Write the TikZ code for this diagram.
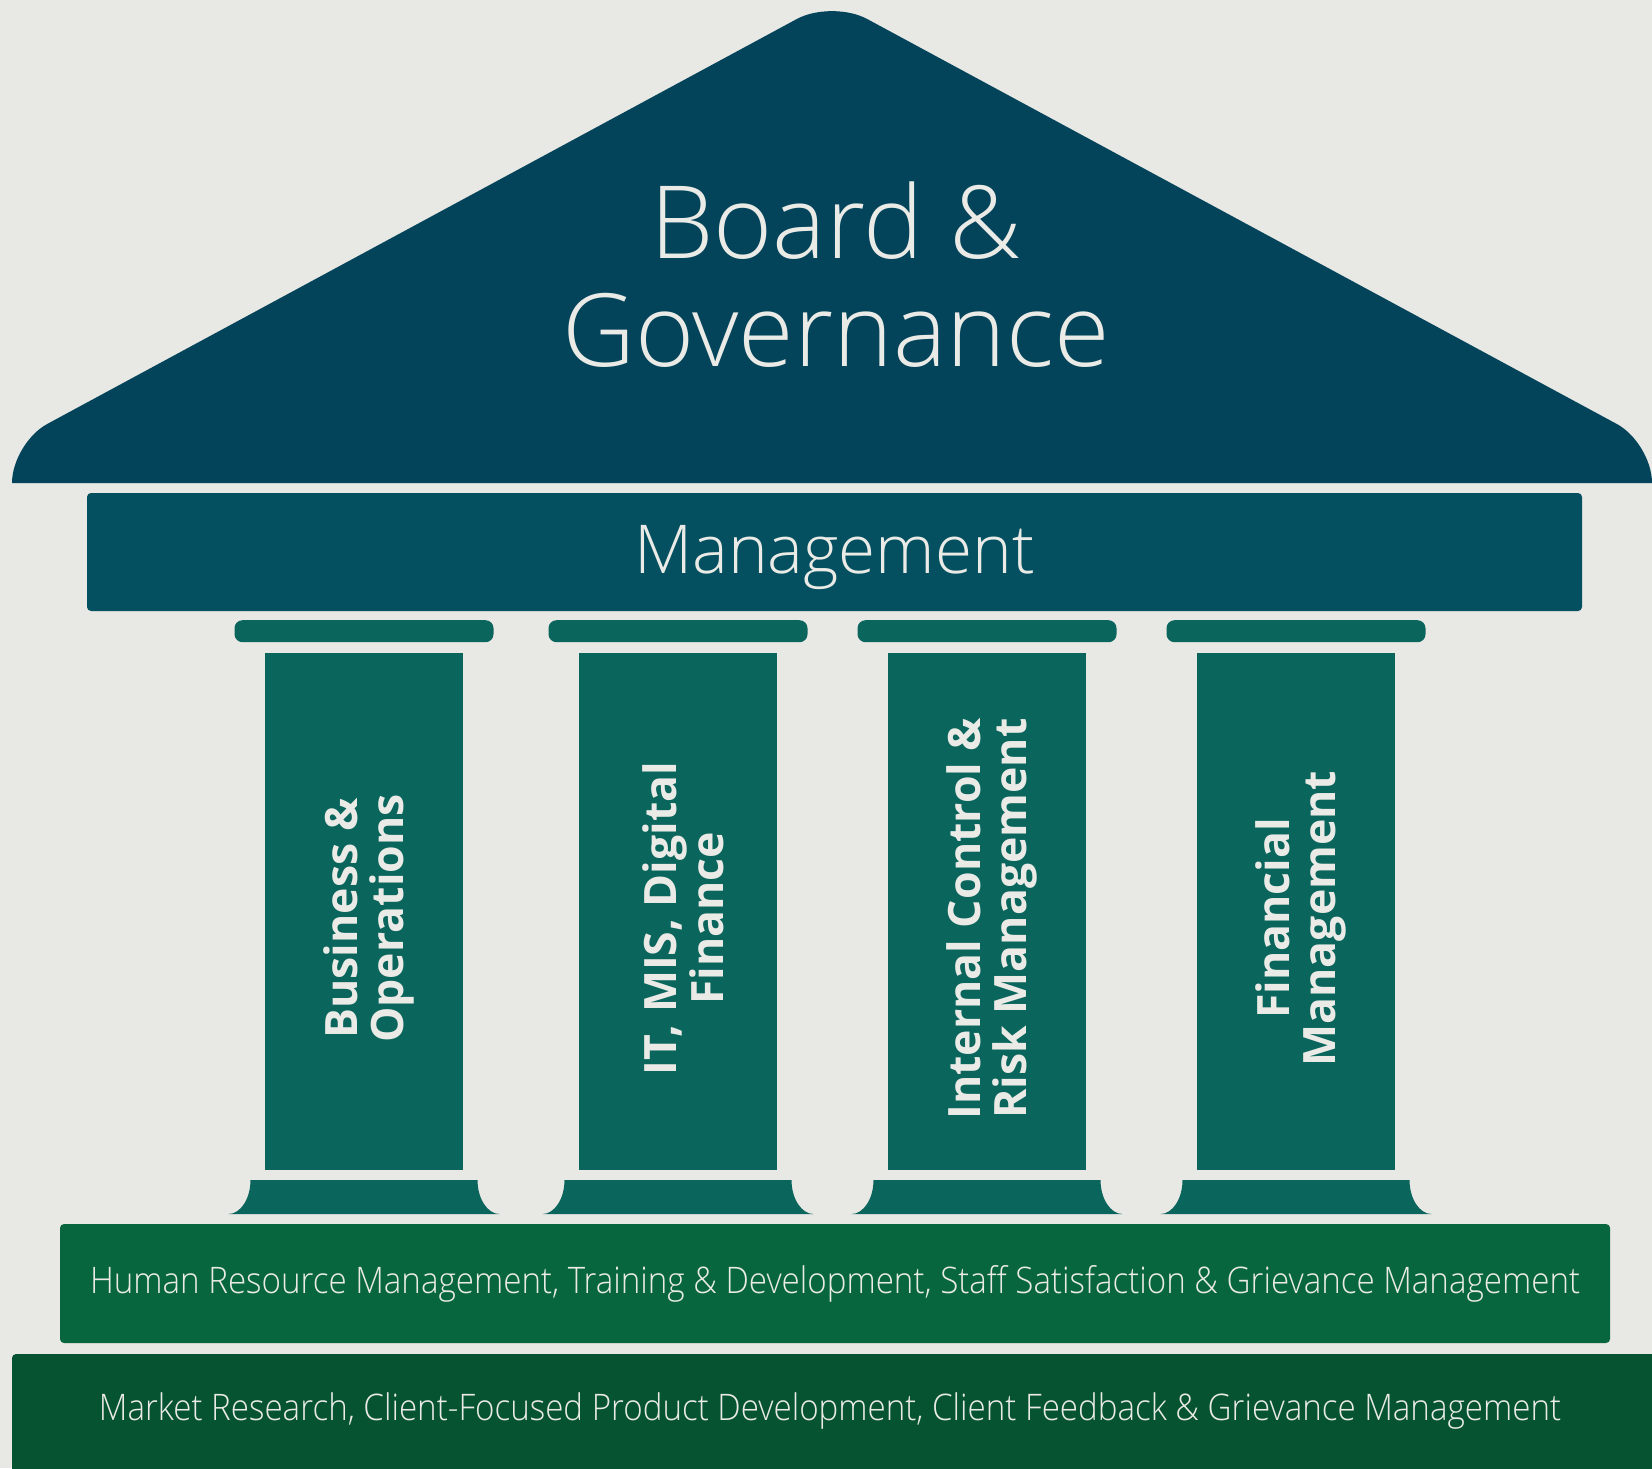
\documentclass[tikz,border=0pt]{standalone}
\usepackage{fontspec}
\setmainfont{Open Sans}[UprightFont=* Light, BoldFont=* Bold]
\newfontfamily\narrowfont{Open Sans}[UprightFont=* Light, FakeStretch=0.905]
\usepackage{tikz}
\usetikzlibrary{positioning}
\definecolor{paper}{HTML}{E8E8E4}
\definecolor{ink}{HTML}{EAEBE6}
\definecolor{roofblue}{HTML}{04445B}
\definecolor{mgmtblue}{HTML}{055060}
\definecolor{pillar}{HTML}{0A655D}
\definecolor{hrgreen}{HTML}{07663D}
\definecolor{mktgreen}{HTML}{065332}
\tikzstyle{block} = [rectangle, rounded corners=2pt, inner sep=0pt, text=ink]
\tikzstyle{capital} = [rectangle, rounded corners=4pt, fill=pillar, minimum width=129.5pt, minimum height=11pt, inner sep=0pt]
\tikzstyle{shaft} = [rectangle, fill=pillar, minimum width=99pt, minimum height=258.5pt, inner sep=0pt]
\tikzstyle{pillartext} = [rotate=90, inner sep=0pt, text=ink, font=\bfseries\fontsize{22.3}{23.3}\selectfont]

\begin{document}
\begin{tikzpicture}[x=0.5pt, y=-0.5pt, every text node part/.style={align=center}]
   \fill[paper] (0,0) rectangle (1652,1468);
   \useasboundingbox (0,0) rectangle (1652,1468);
   % Roof
   \fill[roofblue] (12,483) [rounded corners=20pt] -- (12,443) -- (832,0) -- (1652,443) [sharp corners] -- (1652,483) -- cycle;
   \node [text=ink, anchor=base, font=\fontsize{50.5}{56}\selectfont] (board) at (836,258) {Board \&};
   \node [text=ink, anchor=base, font=\fontsize{50.5}{56}\selectfont] (gov) at (836,366.5) {Governance};
   % Place nodes
   \node [block, fill=mgmtblue, minimum width=747.5pt, minimum height=59pt, text depth=2.7pt, font=\fontsize{33.7}{40}\selectfont] (mgmt) at (834.5,552) {Management};
   \node [shaft] (col1) at (364,911.5) {};
   \node [shaft] (col2) at (678,911.5) {};
   \node [shaft] (col3) at (987,911.5) {};
   \node [shaft] (col4) at (1296,911.5) {};
   \node [pillartext] (txt1) at (369,918.5) {Business \&\\Operations};
   \node [pillartext] (txt2) at (683,918.5) {IT, MIS, Digital\\Finance};
   \node [pillartext] (txt3) at (992,918.5) {Internal Control \&\\Risk Management};
   \node [pillartext] (txt4) at (1301,918.5) {Financial\\Management};
   \node [capital, above = 5pt of col1] (cap1) {};
   \node [capital, above = 5pt of col2] (cap2) {};
   \node [capital, above = 5pt of col3] (cap3) {};
   \node [capital, above = 5pt of col4] (cap4) {};
   % Column bases
   \fill[pillar] (250.5,1180) -- (477.5,1180) .. controls (477.5,1198.8) and (487.6,1214) .. (499.5,1214) -- (228.5,1214) .. controls (240.4,1214) and (250.5,1198.8) .. (250.5,1180) -- cycle;
   \fill[pillar] (564.5,1180) -- (791.5,1180) .. controls (791.5,1198.8) and (801.6,1214) .. (813.5,1214) -- (542.5,1214) .. controls (554.4,1214) and (564.5,1198.8) .. (564.5,1180) -- cycle;
   \fill[pillar] (873.5,1180) -- (1100.5,1180) .. controls (1100.5,1198.8) and (1110.6,1214) .. (1122.5,1214) -- (851.5,1214) .. controls (863.4,1214) and (873.5,1198.8) .. (873.5,1180) -- cycle;
   \fill[pillar] (1182.5,1180) -- (1409.5,1180) .. controls (1409.5,1198.8) and (1419.6,1214) .. (1431.5,1214) -- (1160.5,1214) .. controls (1172.4,1214) and (1182.5,1198.8) .. (1182.5,1180) -- cycle;
   % Foundation
   \node [block, fill=hrgreen, minimum width=775pt, minimum height=59.5pt, font=\narrowfont\fontsize{18.3}{22}\selectfont] (hr) at (835,1283.5) {Human Resource Management, Training \& Development, Staff Satisfaction \& Grievance Management};
   \fill[mktgreen, rounded corners=2pt] (12,1354) rectangle (1680,1490);
   \node [text=ink, font=\narrowfont\fontsize{18.3}{22}\selectfont] (market) at (830,1411) {Market Research, Client-Focused Product Development, Client Feedback \& Grievance Management};
\end{tikzpicture}
\end{document}
